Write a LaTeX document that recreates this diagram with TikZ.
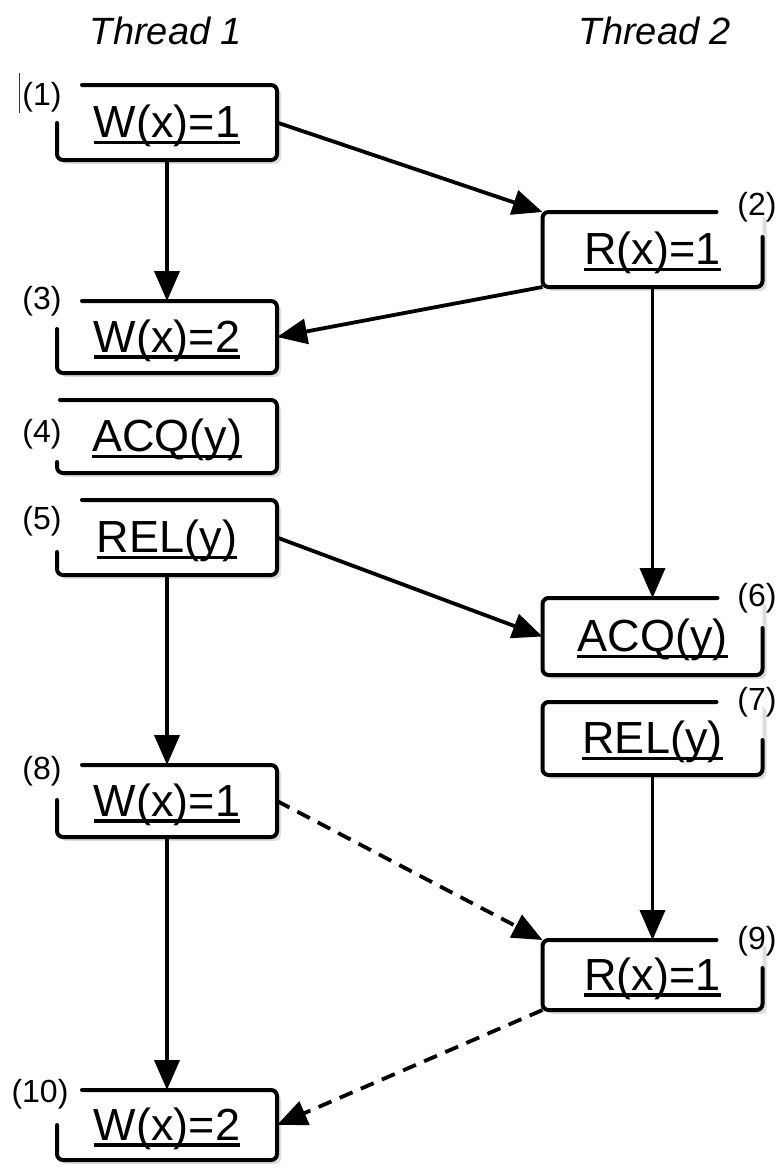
\documentclass[tikz,border=0pt]{standalone}
\usepackage{fontspec}
\setmainfont{Liberation Sans}
\usetikzlibrary{arrows.meta,calc}

\tikzset{
  opbox/.style={minimum width=220pt, inner sep=0pt, outer sep=0pt},
  outline/.style={line width=4pt, rounded corners=6pt, line cap=round, line join=round},
  shadowfill/.style={fill=black!13, rounded corners=6pt},
  optext/.style={font=\fontsize{45}{50}\selectfont, inner sep=0pt, anchor=base},
  ulrule/.style={line width=3.2pt},
  idx/.style={font=\fontsize{32}{36}\selectfont, inner sep=0pt},
  title/.style={font=\fontsize{38}{42}\selectfont\itshape, inner sep=0pt, anchor=base},
  flow/.style={line width=3.8pt, -{Triangle[length=30pt,width=25pt]}},
  weak/.style={flow, dash pattern=on 14pt off 9pt},
}

% shadow + white face of an operation box
\newcommand\boxface[1]{%
  \fill[shadowfill] ($(#1.north west)+(4pt,-4pt)$) rectangle ($(#1.south east)+(4pt,-4pt)$);
  \fill[white, rounded corners=6pt] (#1.north west) rectangle (#1.south east);
}
% Thread 1 box: open at the top-left corner (#2 = top gap, #3 = side gap)
\newcommand\leftopen[3]{%
  \boxface{#1}
  \draw[outline] ($(#1.north west)+(#2pt,0pt)$) -- (#1.north east) -- (#1.south east)
    -- (#1.south west) -- ($(#1.north west)+(0pt,-#3pt)$);
}
% Thread 2 box: open at the top-right corner
\newcommand\rightopen[3]{%
  \boxface{#1}
  \draw[outline] ($(#1.north east)+(-#2pt,0pt)$) -- (#1.north west) -- (#1.south west)
    -- (#1.south east) -- ($(#1.north east)+(0pt,-#3pt)$);
}
% underlined operation text
\newcommand\optxt[3]{%
  \node[optext] (#1) at ($(#2.center)+(0pt,-15pt)$) {#3};
  \draw[ulrule] ([yshift=-5pt]#1.base west) -- ([yshift=-5pt]#1.base east);
}

\begin{document}
\begin{tikzpicture}[x=1pt, y=-1pt]
\useasboundingbox (0,0) rectangle (782,1170);

% column titles
\node[title] (th1) at (166,44) {Thread 1};
\node[title] (th2) at (655,44) {Thread 2};

% operation boxes
\node[opbox, minimum height=75pt] (b1)  at (167,122.5) {};
\node[opbox, minimum height=72pt] (b3)  at (167,337) {};
\node[opbox, minimum height=73pt] (b4)  at (167,436.5) {};
\node[opbox, minimum height=75pt] (b5)  at (167,537.5) {};
\node[opbox, minimum height=72pt] (b8)  at (167,801) {};
\node[opbox, minimum height=70pt] (b10) at (167,1125) {};
\node[opbox, minimum height=75pt] (b2)  at (652.5,249.5) {};
\node[opbox, minimum height=77pt] (b6)  at (652.5,636.5) {};
\node[opbox, minimum height=73pt] (b7)  at (652.5,738.5) {};
\node[opbox, minimum height=70pt] (b9)  at (652.5,975) {};

\leftopen{b1}{25}{38}
\leftopen{b3}{25}{28}
\leftopen{b4}{3}{62}
\leftopen{b5}{25}{52}
\leftopen{b8}{25}{35}
\leftopen{b10}{25}{35}
\rightopen{b2}{46}{25}
\rightopen{b6}{45}{30}
\rightopen{b7}{46}{38}
\rightopen{b9}{46}{28}

\optxt{t1}{b1}{W(x)=1}
\optxt{t3}{b3}{W(x)=2}
\optxt{t4}{b4}{ACQ(y)}
\optxt{t5}{b5}{REL(y)}
\optxt{t8}{b8}{W(x)=1}
\optxt{t10}{b10}{W(x)=2}
\optxt{t2}{b2}{R(x)=1}
\optxt{t6}{b6}{ACQ(y)}
\optxt{t7}{b7}{REL(y)}
\optxt{t9}{b9}{R(x)=1}

% step numbers
\node[idx] (n1)  at (42,97)   {(1)};
\node[idx] (n3)  at (42,301)  {(3)};
\node[idx] (n4)  at (42,434)  {(4)};
\node[idx] (n5)  at (42,521)  {(5)};
\node[idx] (n8)  at (42,771)  {(8)};
\node[idx] (n10) at (40,1094) {(10)};
\node[idx] (n2)  at (757,207) {(2)};
\node[idx] (n6)  at (757,598) {(6)};
\node[idx] (n7)  at (757,702) {(7)};
\node[idx] (n9)  at (757,941) {(9)};

% text cursor beside the first label
\coordinate (cur1) at (19,73);
\coordinate (cur2) at (19,113);
\draw[line width=1pt, black!80] (cur1) -- (cur2);

% ordering edges
\draw[flow] (b1.south) -- (b3.north);
\draw[flow] (b1.east) -- (b2.north west);
\draw[flow] (b2.south west) -- (b3.east);
\draw[flow] (b2.south) -- (b6.north);
\draw[flow] (b5.east) -- (b6.west);
\draw[flow] (b5.south) -- (b8.north);
\draw[flow] (b7.south) -- (b9.north);
\draw[flow] (b8.south) -- (b10.north);
\draw[weak] (b8.east) -- (b9.north west);
\draw[weak] (b9.south west) -- (b10.east);
\end{tikzpicture}
\end{document}
